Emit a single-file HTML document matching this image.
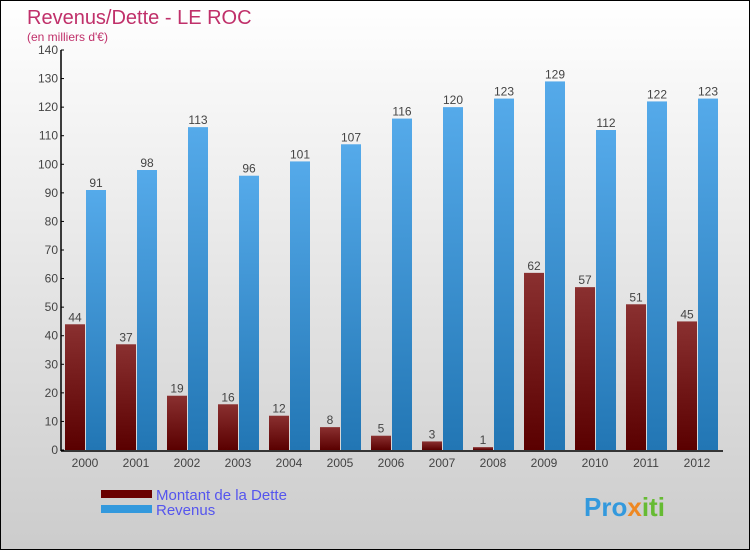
<!DOCTYPE html>
<html><head><meta charset="utf-8"><style>
body{margin:0;width:750px;height:550px;overflow:hidden;font-family:"Liberation Sans",sans-serif}
#c{position:absolute;left:0;top:0;width:748px;height:548px;border:1px solid #000;background:linear-gradient(#ffffff,#cccccc)}
</style></head><body>
<div id="c">
<svg id="s" width="748" height="548" style="position:absolute;left:0;top:0">
<defs>
<linearGradient id="gd" x1="0" y1="0" x2="0" y2="1"><stop offset="0" stop-color="#8a3030"/><stop offset="1" stop-color="#5a0000"/></linearGradient>
<linearGradient id="gr" x1="0" y1="0" x2="0" y2="1"><stop offset="0" stop-color="#55aaea"/><stop offset="1" stop-color="#2276b4"/></linearGradient>
</defs>
<text x="26" y="23" font-size="20" fill="#c0306a">Revenus/Dette - LE ROC</text>
<text x="26" y="40" font-size="12" fill="#c0306a">(en milliers d'€)</text>
<g id="bars"></g>
<g id="axes"></g>
<rect x="100" y="489" width="51" height="8" fill="#6a0000"/>
<rect x="100" y="504" width="51" height="8" fill="#3399dd"/>
<text x="155" y="499" font-size="15" fill="#5555ee">Montant de la Dette</text>
<text x="155" y="514" font-size="15" fill="#5555ee">Revenus</text>
<text x="583" y="515" font-size="26" font-weight="bold" fill="#3399dd">Pro<tspan fill="#ee8822">x</tspan><tspan fill="#66bb33">iti</tspan></text>
</svg>
</div>
<script>
const years=["2000","2001","2002","2003","2004","2005","2006","2007","2008","2009","2010","2011","2012"];
const dette=[44,37,19,16,12,8,5,3,1,62,57,51,45];
const revenus=[91,98,113,96,101,107,116,120,123,129,112,122,123];
const ticks=[0,10,20,30,40,50,60,70,80,90,100,110,120,130,140];
const NS="http://www.w3.org/2000/svg";
const y0=449,ppu=400/140;
const yS=v=>y0-v*ppu;
const xC=i=>84+i*51;
const bars=document.getElementById('bars'),axes=document.getElementById('axes');
function mk(t,a,p){const e=document.createElementNS(NS,t);for(const k in a)e.setAttribute(k,a[k]);p.appendChild(e);return e;}
years.forEach((yr,i)=>{
 const c=xC(i);
 let r=mk('rect',{x:c-20,y:yS(dette[i]),width:20,height:dette[i]*ppu,fill:'url(#gd)'},bars);
 
 
 r=mk('rect',{x:c+1,y:yS(revenus[i]),width:20,height:revenus[i]*ppu,fill:'url(#gr)'},bars);
 
 
 let t=mk('text',{x:c-10,y:yS(dette[i])-3,'font-size':12,fill:'#444','text-anchor':'middle'},bars);t.textContent=dette[i];
 
 
 t=mk('text',{x:c+11,y:yS(revenus[i])-3,'font-size':12,fill:'#444','text-anchor':'middle'},bars);t.textContent=revenus[i];
 
 
 t=mk('text',{x:c,y:466,'font-size':12,fill:'#444','text-anchor':'middle'},axes);t.textContent=yr;
 
 
});
let l=mk('line',{x1:60,y1:yS(140),x2:60,y2:y0+1,stroke:'#000','stroke-width':1.5},axes);


l=mk('line',{x1:60,y1:y0+1,x2:722,y2:y0+1,stroke:'#000','stroke-width':1.5},axes);


ticks.forEach(v=>{
 mk('line',{x1:60,y1:yS(v),x2:63,y2:yS(v),stroke:'#000'},axes);
 const t=mk('text',{x:57,y:yS(v)+4,'font-size':12,fill:'#444','text-anchor':'end'},axes);t.textContent=v;
 
 
});
</script>
</body></html>
